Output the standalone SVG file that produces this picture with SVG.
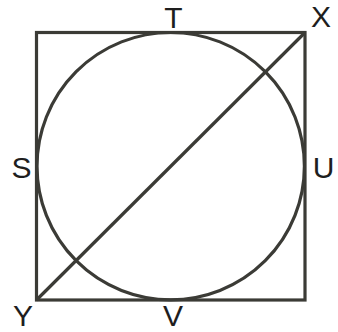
<svg xmlns="http://www.w3.org/2000/svg" width="338" height="332" viewBox="0 0 338 332">
<style>
.s{fill:none;stroke:#3b3b36;stroke-width:3.2}
.t{font-family:"Liberation Sans",Arial,sans-serif;font-size:30px;fill:#1e1e1e;text-anchor:middle}
</style>
<rect width="338" height="332" fill="#fff"/>
<g id="square"><rect class="s" x="36.5" y="32.5" width="268.5" height="267.5"/></g>
<g id="circle"><circle class="s" cx="170.7" cy="166.2" r="133.7"/></g>
<g id="connectors"><line class="s" x1="36.5" y1="300" x2="305" y2="32.5"/></g>
<g id="T"><text class="t" x="173.5" y="28">T</text></g>
<g id="X"><text class="t" x="321" y="27">X</text></g>
<g id="S"><text class="t" x="21.5" y="178">S</text></g>
<g id="U"><text class="t" x="323.5" y="178">U</text></g>
<g id="Y"><text class="t" x="23" y="326">Y</text></g>
<g id="V"><text class="t" x="173" y="326">V</text></g>
</svg>
